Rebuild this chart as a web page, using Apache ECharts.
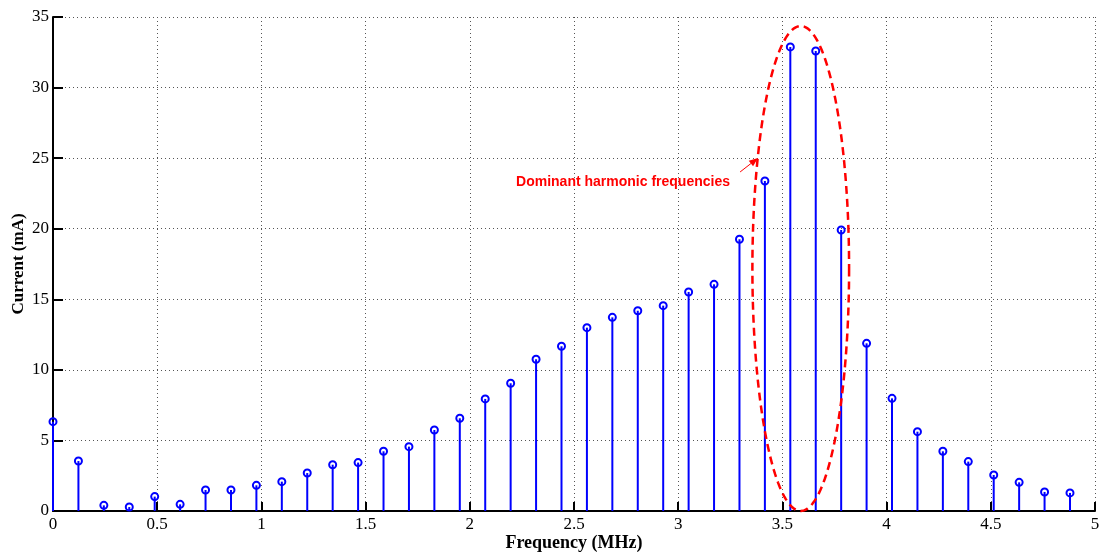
<!DOCTYPE html>
<html>
<head>
<meta charset="utf-8">
<script src="https://cdn.jsdelivr.net/npm/echarts@6/dist/echarts.min.js"></script>
<style>
html,body{margin:0;padding:0;background:#fff;}
#chart{width:1102px;height:554px;}
</style>
</head>
<body>
<div id="chart"></div>
<script>
// Harmonic frequencies (MHz)
const frequencies = [0, 0.122, 0.244, 0.366, 0.488, 0.61, 0.732, 0.854, 0.976, 1.098,
  1.22, 1.342, 1.464, 1.586, 1.708, 1.83, 1.952, 2.074, 2.196, 2.318,
  2.44, 2.562, 2.684, 2.806, 2.928, 3.05, 3.172, 3.294, 3.416, 3.538,
  3.66, 3.782, 3.904, 4.026, 4.148, 4.27, 4.392, 4.514, 4.636, 4.758, 4.88];
// Current (mA)
const currents = [6.33, 3.54, 0.40, 0.28, 1.02, 0.47, 1.49, 1.49, 1.82, 2.08,
  2.69, 3.28, 3.43, 4.23, 4.56, 5.74, 6.57, 7.94, 9.05, 10.75,
  11.67, 12.99, 13.72, 14.19, 14.55, 15.52, 16.06, 19.25, 23.38, 32.88,
  32.59, 19.91, 11.88, 7.98, 5.62, 4.23, 3.50, 2.55, 2.03, 1.35, 1.28];
const xTicks = {min: 0, max: 5, interval: 0.5};
const yTicks = {min: 0, max: 35, interval: 5};
const annotationText = 'Dominant harmonic frequencies';
// annotation geometry in data units
const ellipseCenter = [3.588, 17.18];
const ellipseRadii = [0.232, 17.18];
const textAnchor = [2.222, 23.31];
const arrowFrom = [3.297, 24.02];
const arrowTo = [3.383, 25.01];

const chart = echarts.init(document.getElementById('chart'), null, {renderer: 'canvas'});
const serif = 'Liberation Serif';
const stemData = frequencies.map((f, i) => [f, currents[i]]);

const option = {
  animation: false,
  backgroundColor: '#fff',
  grid: {left: 53, right: 7, top: 17, bottom: 43, containLabel: false, outerBoundsMode: 'none'},
  xAxis: {
    type: 'value', min: xTicks.min, max: xTicks.max, interval: xTicks.interval,
    name: 'Frequency (MHz)', nameLocation: 'middle', nameGap: 23, nameMoveOverlap: false,
    nameTextStyle: {fontFamily: serif, fontWeight: 'bold', fontSize: 18, color: '#000'},
    axisLine: {show: true, onZero: false, lineStyle: {color: '#000', width: 2}},
    axisTick: {show: true, inside: true, length: 9, lineStyle: {color: '#000', width: 2}},
    axisLabel: {fontFamily: serif, fontSize: 17, color: '#000', margin: 5},
    splitLine: {show: true, lineStyle: {color: '#555', width: 1, type: [1, 3]}}
  },
  yAxis: {
    type: 'value', min: yTicks.min, max: yTicks.max, interval: yTicks.interval,
    name: 'Current (mA)', nameLocation: 'middle', nameGap: 26, nameMoveOverlap: false,
    nameTextStyle: {fontFamily: serif, fontWeight: 'bold', fontSize: 17, color: '#000'},
    axisLine: {show: true, lineStyle: {color: '#000', width: 2}},
    axisTick: {show: true, inside: true, length: 10, lineStyle: {color: '#000', width: 2}},
    axisLabel: {fontFamily: serif, fontSize: 17, color: '#000', margin: 4},
    splitLine: {show: true, lineStyle: {color: '#555', width: 1, type: [1, 3]}}
  },
  series: [{
    type: 'custom',
    clip: false,
    data: stemData,
    renderItem: function (params, api) {
      const base = api.coord([api.value(0), 0]);
      const top = api.coord([api.value(0), api.value(1)]);
      return {
        type: 'group',
        children: [
          {type: 'line', shape: {x1: base[0], y1: base[1], x2: top[0], y2: top[1]},
           style: {stroke: '#0000ff', lineWidth: 2}},
          {type: 'circle', shape: {cx: top[0], cy: top[1], r: 3.5},
           style: {stroke: '#0000ff', fill: 'none', lineWidth: 2}}
        ]
      };
    }
  }]
};
chart.setOption(option);

function px(p) { return chart.convertToPixel({gridIndex: 0}, p); }
const c = px(ellipseCenter);
const e1 = px([ellipseCenter[0] + ellipseRadii[0], ellipseCenter[1] + ellipseRadii[1]]);
const rx = Math.abs(e1[0] - c[0]), ry = Math.abs(e1[1] - c[1]);
const pts = [];
for (let k = 0; k <= 180; k++) {
  const t = (k / 180) * Math.PI * 2;
  pts.push([c[0] + rx * Math.cos(t), c[1] + ry * Math.sin(t)]);
}
const tA = px(textAnchor);
const a0 = px(arrowFrom), a1 = px(arrowTo);
const ang = Math.atan2(a1[1] - a0[1], a1[0] - a0[0]);
const hl = 9, hw = 3.5;
const bx = a1[0] - hl * Math.cos(ang), by = a1[1] - hl * Math.sin(ang);
const head = [
  [a1[0], a1[1]],
  [bx + hw * Math.sin(ang), by - hw * Math.cos(ang)],
  [bx - hw * Math.sin(ang), by + hw * Math.cos(ang)]
];

chart.setOption({
  graphic: [
    {type: 'polygon', shape: {points: pts}, z: 100,
     style: {fill: 'none', stroke: '#ff0000', lineWidth: 2.5, lineDash: [8, 5]}},
    {type: 'line', shape: {x1: a0[0], y1: a0[1], x2: bx, y2: by}, z: 100,
     style: {stroke: '#ff0000', lineWidth: 1}},
    {type: 'polygon', shape: {points: head}, z: 100, style: {fill: '#ff0000'}},
    {type: 'text', x: tA[0], y: tA[1], z: 100,
     style: {text: annotationText, fill: '#ff0000', font: 'bold 14px "Liberation Sans"',
             textAlign: 'left', textVerticalAlign: 'middle'}}
  ]
});
</script>
</body>
</html>
